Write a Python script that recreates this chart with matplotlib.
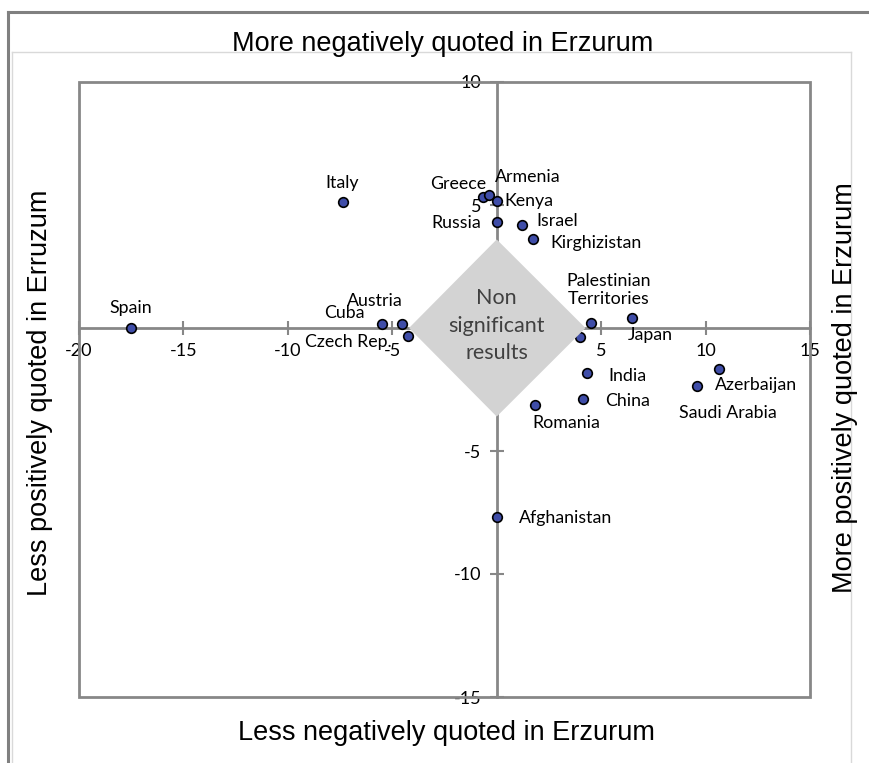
import matplotlib
matplotlib.use("Agg")
import matplotlib.pyplot as plt
from matplotlib.patches import Polygon, Rectangle
from matplotlib.lines import Line2D

# data: (x, y) per country
countries = ["Spain", "Italy", "Cuba", "Austria", "Czech Rep.", "Greece", "Armenia",
             "Kenya", "Russia", "Israel", "Kirghizistan", "Palestinian\nTerritories",
             "", "Japan", "India", "China", "Azerbaijan", "Saudi Arabia",
             "Romania", "Afghanistan"]
x_vals = [-17.5, -7.35, -5.5, -4.55, -4.26, -0.67, -0.38, 0.0, 0.0, 1.2, 1.72, 4.5,
          3.97, 6.46, 4.31, 4.12, 10.63, 9.57, 1.82, 0.0]
y_vals = [0.0, 5.13, 0.16, 0.16, -0.33, 5.33, 5.41, 5.16, 4.31, 4.19, 3.62, 0.2,
          -0.37, 0.41, -1.83, -2.89, -1.67, -2.36, -3.13, -7.68]

x_ticks = [-20, -15, -10, -5, 5, 10, 15]
y_ticks = [-15, -10, -5, 5, 10]

# label placement: (dx, dy) in pixels from the dot, horizontal alignment
label_pos = {
    "Spain": (0, 20, "center"), "Italy": (-1, 19, "center"),
    "Cuba": (-17, 11, "right"), "Austria": (1, 23, "right"),
    "Czech Rep.": (-16, -6, "right"), "Greece": (4, 13, "right"),
    "Armenia": (6, 18, "left"), "Kenya": (8, 0, "left"),
    "Russia": (-16, -1, "right"), "Israel": (15, 4, "left"),
    "Kirghizistan": (18, -4, "left"), "Palestinian\nTerritories": (18, 33, "center"),
    "Japan": (-4, -17, "left"), "India": (22, -3, "left"), "China": (22, -2, "left"),
    "Azerbaijan": (-4, -16, "left"), "Saudi Arabia": (-18, -27, "left"),
    "Romania": (-2, -18, "left"), "Afghanistan": (22, -1, "left"),
}

W, H = 870, 763
AXIS = "#878787"
LABEL_FONT = "Lato"
TITLE_FONT = "Liberation Sans"


def fx(px):
    return px / W


def fy(py):
    return 1 - py / H


fig = plt.figure(figsize=(W / 100, H / 100), dpi=100)
ax = fig.add_axes([fx(79), fy(697), fx(810) - fx(79), fy(82) - fy(697)])
ax.set_xlim(-20, 15)
ax.set_ylim(-15, 10)

# axes cross at zero, frame drawn separately
for side in ["top", "right"]:
    ax.spines[side].set_visible(False)
ax.spines["left"].set_position(("data", 0))
ax.spines["bottom"].set_position(("data", 0))
for side in ["left", "bottom"]:
    ax.spines[side].set_color(AXIS)
    ax.spines[side].set_linewidth(2)
ax.add_patch(Rectangle((0, 0), 1, 1, transform=ax.transAxes, fill=False,
                       ec=AXIS, lw=2, clip_on=False, zorder=2.5))

ax.set_xticks(x_ticks)
ax.set_yticks(y_ticks)
ax.set_xticklabels([str(t) for t in x_ticks], fontfamily=LABEL_FONT, fontsize=13)
ax.set_yticklabels([str(t) for t in y_ticks], fontfamily=LABEL_FONT, fontsize=13)
ax.tick_params(axis="both", direction="inout", length=10, width=1.5, color=AXIS,
               labelcolor="black")
ax.tick_params(axis="x", pad=6)
ax.tick_params(axis="y", pad=6)

# non significant zone
ax.add_patch(Polygon([(0, 3.6), (4.25, 0), (0, -3.6), (-4.2, 0)], closed=True,
                     fc="#D3D3D3", ec="none", zorder=3))
ax.text(0, 0.1, "Non\nsignificant\nresults", ha="center", va="center",
        fontsize=15.5, color="#404040", fontfamily=LABEL_FONT, linespacing=1.45,
        zorder=4)

ax.scatter(x_vals, y_vals, s=48, c="#3F4DA8", edgecolors="black", linewidths=1.2,
           zorder=2.8, clip_on=False)

for name, xv, yv in zip(countries, x_vals, y_vals):
    if not name:
        continue
    dx, dy, ha = label_pos[name]
    ax.annotate(name, (xv, yv), xytext=(dx, dy), textcoords="offset pixels",
                ha=ha, va="center", fontsize=12.8, fontfamily=LABEL_FONT,
                color="black", zorder=5, linespacing=1.15)

# outer chart frame (cropped Excel chart border)
fig.add_artist(Line2D([fx(8), fx(8)], [fy(12), 0], color="#808080", lw=2.2))
fig.add_artist(Line2D([fx(8), 1], [fy(12), fy(12)], color="#808080", lw=2.2))
fig.add_artist(Line2D([fx(12), fx(12)], [fy(52), 0], color="#D9D9D9", lw=1))
fig.add_artist(Line2D([fx(12), fx(851)], [fy(52), fy(52)], color="#D9D9D9", lw=1))
fig.add_artist(Line2D([fx(851), fx(851)], [fy(52), 0], color="#D9D9D9", lw=1))

fig.text(fx(443), fy(44), "More negatively quoted in Erzurum", ha="center",
         va="center", fontsize=19.5, fontfamily=TITLE_FONT)
fig.text(fx(446), fy(733), "Less negatively quoted in Erzurum", ha="center",
         va="center", fontsize=19.5, fontfamily=TITLE_FONT)
fig.text(fx(40), fy(393), "Less positively quoted in Erruzum", ha="center",
         va="center", fontsize=19.5, fontfamily=TITLE_FONT, rotation=90)
fig.text(fx(845), fy(388), "More positively quoted in Erzurum", ha="center",
         va="center", fontsize=19.5, fontfamily=TITLE_FONT, rotation=90)

fig.savefig("out.png", dpi=100)
